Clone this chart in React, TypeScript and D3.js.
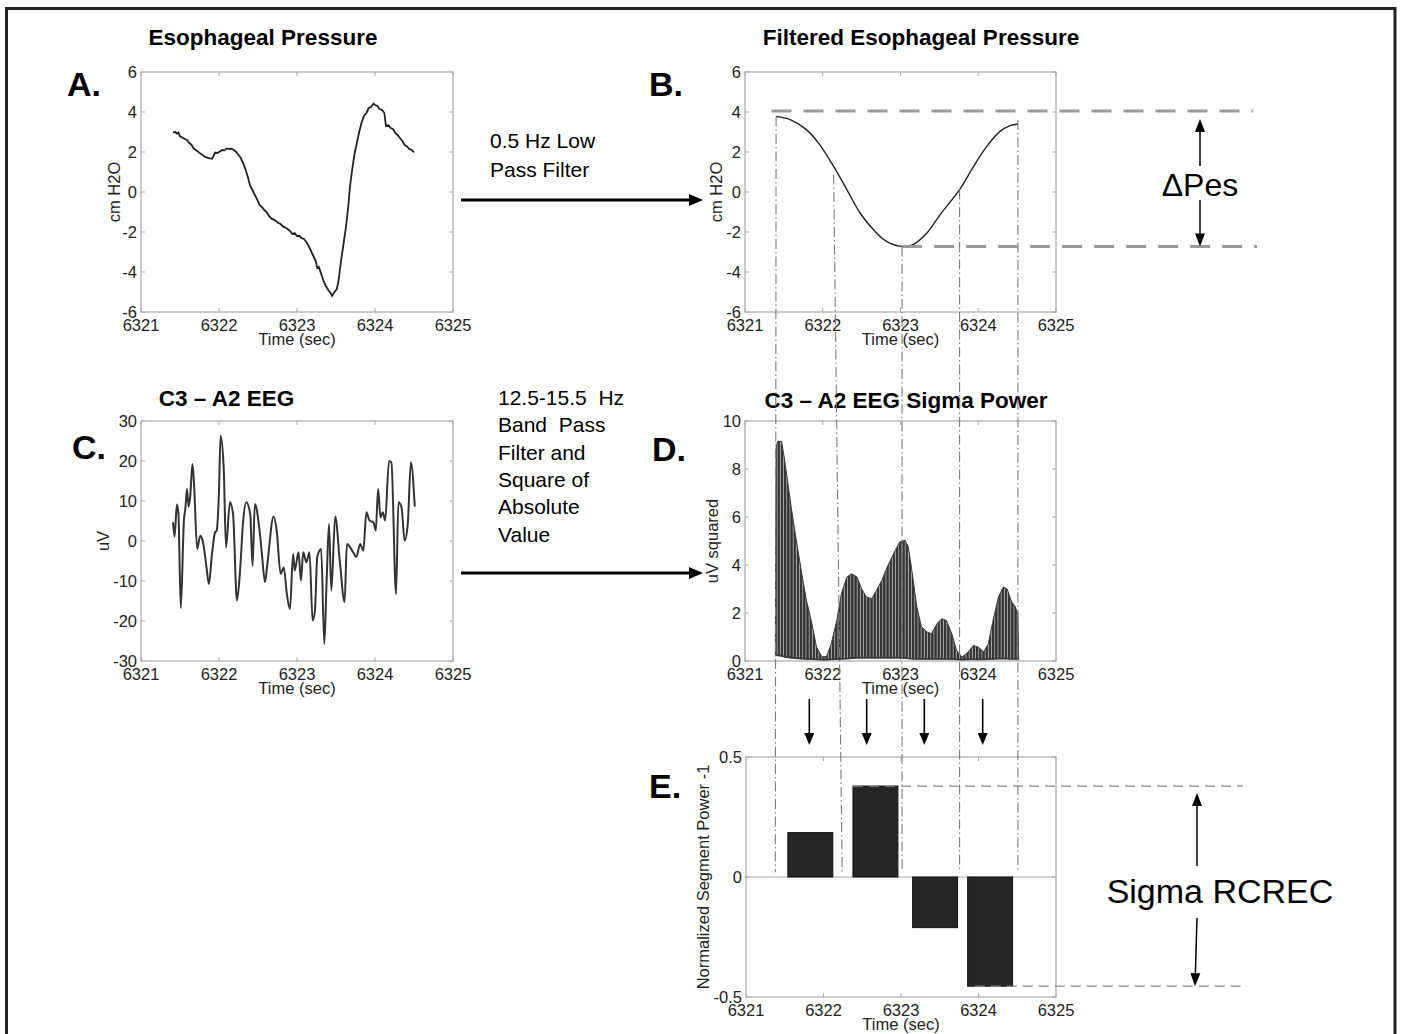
import React from 'react';
import * as d3 from 'd3';

const FONT = '"Liberation Sans", Arial, Helvetica, sans-serif';

// ---------- data ----------
const timeTicks = [6321, 6322, 6323, 6324, 6325];
const pesTicks = [-6, -4, -2, 0, 2, 4, 6];
const eegTicks = [-30, -20, -10, 0, 10, 20, 30];
const sigmaTicks = [0, 2, 4, 6, 8, 10];
const segTicks = [-0.5, 0, 0.5];

const rawPes: [number, number][] = [
  [6321.41, 2.98], [6321.44, 3.0], [6321.46, 2.92], [6321.48, 2.98], [6321.5, 2.78], [6321.53, 2.72],
  [6321.56, 2.65], [6321.59, 2.6], [6321.62, 2.45], [6321.65, 2.35], [6321.67, 2.2], [6321.7, 2.1],
  [6321.73, 2.02], [6321.76, 1.92], [6321.79, 1.85], [6321.82, 1.75], [6321.85, 1.72], [6321.88, 1.68],
  [6321.91, 1.66], [6321.93, 1.8], [6321.95, 1.97], [6321.98, 1.95], [6322.01, 2.02], [6322.04, 2.1],
  [6322.07, 2.08], [6322.1, 2.18], [6322.13, 2.15], [6322.16, 2.17], [6322.19, 2.1], [6322.22, 2.0],
  [6322.25, 1.85], [6322.28, 1.7], [6322.31, 1.45], [6322.34, 1.12], [6322.37, 0.75], [6322.4, 0.3],
  [6322.43, 0.1], [6322.46, -0.15], [6322.49, -0.38], [6322.52, -0.65], [6322.55, -0.75], [6322.58, -0.9],
  [6322.61, -1.0], [6322.64, -1.2], [6322.67, -1.32], [6322.7, -1.38], [6322.73, -1.45], [6322.76, -1.55],
  [6322.79, -1.6], [6322.82, -1.72], [6322.85, -1.78], [6322.88, -1.85], [6322.91, -1.95], [6322.94, -2.1],
  [6322.97, -2.05], [6323.0, -2.2], [6323.03, -2.2], [6323.06, -2.3], [6323.09, -2.35], [6323.12, -2.5],
  [6323.15, -2.7], [6323.18, -2.95], [6323.21, -3.2], [6323.24, -3.45], [6323.26, -3.8], [6323.28, -3.75],
  [6323.31, -4.1], [6323.34, -4.45], [6323.37, -4.7], [6323.4, -4.9], [6323.43, -5.05], [6323.45, -5.2],
  [6323.48, -5.0], [6323.51, -4.85], [6323.53, -4.5], [6323.55, -3.9], [6323.57, -3.3], [6323.6, -2.5],
  [6323.63, -1.7], [6323.66, -0.6], [6323.68, 0.3], [6323.71, 1.2], [6323.74, 1.95], [6323.77, 2.5],
  [6323.8, 3.05], [6323.83, 3.5], [6323.86, 3.82], [6323.89, 3.95], [6323.92, 4.2], [6323.95, 4.25],
  [6323.98, 4.42], [6324.0, 4.35], [6324.03, 4.3], [6324.06, 4.15], [6324.09, 4.1], [6324.12, 3.95],
  [6324.14, 3.3], [6324.17, 3.35], [6324.2, 3.2], [6324.23, 3.15], [6324.26, 2.95], [6324.29, 2.85],
  [6324.32, 2.7], [6324.35, 2.55], [6324.38, 2.35], [6324.41, 2.28], [6324.44, 2.15], [6324.47, 2.1],
  [6324.5, 1.98],
];

const filteredPes: [number, number][] = [
  [6321.4, 3.78], [6321.58, 3.62], [6321.79, 3.12], [6321.96, 2.37], [6322.14, 1.28], [6322.31, 0.12],
  [6322.48, -1.05], [6322.65, -1.88], [6322.82, -2.47], [6323.01, -2.72], [6323.16, -2.63], [6323.34, -2.05],
  [6323.51, -1.13], [6323.76, 0.12], [6323.94, 1.28], [6324.11, 2.28], [6324.28, 3.03], [6324.41, 3.32],
  [6324.51, 3.4],
];

const eeg: [number, number][] = [
  [6321.41, 4.7], [6321.43, 1.1], [6321.46, 9.1], [6321.48, 6.75], [6321.51, -16.8], [6321.55, 5.1],
  [6321.57, 8.4], [6321.59, 13], [6321.61, 8.6], [6321.63, 10.9], [6321.66, 19.25], [6321.68, 14.25],
  [6321.72, -2], [6321.76, 1.3], [6321.79, 0.1], [6321.84, -6.6], [6321.87, -10.75], [6321.91, -3.25],
  [6321.95, 2.2], [6321.97, 2.6], [6322.0, 12.6], [6322.02, 26.3], [6322.06, 18.4], [6322.09, -1.6],
  [6322.14, 9.7], [6322.18, 6.75], [6322.23, -14.9], [6322.27, -7.4], [6322.31, 5.1], [6322.35, 9.7],
  [6322.4, 6.75], [6322.43, -6.2], [6322.46, 9.25], [6322.52, 2.6], [6322.55, -3.25], [6322.59, -10.3],
  [6322.62, -5.75], [6322.7, 6.1], [6322.74, 2.6], [6322.79, -8.25], [6322.83, -6.6], [6322.87, -13.25],
  [6322.91, -17], [6322.95, -3.25], [6322.97, -7.4], [6323.02, -2.8], [6323.05, -9.9], [6323.08, -2.8],
  [6323.12, -5.3], [6323.16, -2.8], [6323.2, -19.9], [6323.23, -17.4], [6323.26, -4], [6323.31, -2],
  [6323.35, -25.75], [6323.38, -9.9], [6323.41, 4.25], [6323.44, -12.4], [6323.49, 6.1], [6323.55, -5.3],
  [6323.61, -15.3], [6323.64, -0.75], [6323.72, -2.8], [6323.76, -4], [6323.81, -0.75], [6323.85, -2.4],
  [6323.89, 7.2], [6323.93, 5.1], [6323.98, 4.7], [6324.01, 2.6], [6324.04, 13], [6324.07, 5.9],
  [6324.1, 7.2], [6324.13, 5.1], [6324.18, 20], [6324.21, 19.7], [6324.27, -13.25], [6324.3, 9.7],
  [6324.34, 8.4], [6324.38, 0.1], [6324.42, 4.25], [6324.46, 19.7], [6324.51, 8.6],
];

// [time, upper envelope, lower envelope]
const sigmaEnvelope: [number, number, number][] = [
  [6321.39, 0.2, 0.2], [6321.4, 8.9, 0.2], [6321.42, 9.15, 0.2], [6321.47, 9.15, 0.18], [6321.5, 8.57, 0.15],
  [6321.54, 7.67, 0.12], [6321.6, 6.28, 0.1], [6321.66, 5.03, 0.08], [6321.73, 3.64, 0.06], [6321.79, 2.53, 0.05],
  [6321.86, 1.56, 0.04], [6321.92, 0.58, 0.03], [6321.99, 0.17, 0.02], [6322.05, 0.19, 0.02], [6322.11, 0.72, 0.03],
  [6322.18, 1.69, 0.04], [6322.24, 2.81, 0.05], [6322.31, 3.5, 0.06], [6322.37, 3.64, 0.08], [6322.44, 3.5, 0.1],
  [6322.5, 3.01, 0.1], [6322.56, 2.67, 0.1], [6322.63, 2.6, 0.1], [6322.69, 2.94, 0.1], [6322.76, 3.36, 0.1],
  [6322.82, 3.85, 0.1], [6322.91, 4.47, 0.1], [6322.99, 4.96, 0.1], [6323.06, 5.03, 0.08], [6323.1, 4.75, 0.07],
  [6323.14, 3.92, 0.06], [6323.21, 2.25, 0.05], [6323.27, 1.42, 0.05], [6323.34, 1.21, 0.05], [6323.4, 1.14, 0.05],
  [6323.47, 1.56, 0.05], [6323.53, 1.76, 0.05], [6323.59, 1.69, 0.05], [6323.66, 1.14, 0.04], [6323.72, 0.44, 0.03],
  [6323.79, 0.17, 0.02], [6323.85, 0.31, 0.03], [6323.94, 0.65, 0.03], [6324.0, 0.58, 0.03], [6324.07, 0.38, 0.03],
  [6324.13, 0.72, 0.04], [6324.19, 1.69, 0.05], [6324.26, 2.67, 0.06], [6324.32, 3.08, 0.06], [6324.37, 3.01, 0.06],
  [6324.43, 2.46, 0.05], [6324.47, 2.3, 0.05], [6324.51, 1.97, 0.04], [6324.52, 0.05, 0.04],
];

const segCenters = [6321.83, 6322.67, 6323.44, 6324.15];
const segValues = [0.185, 0.379, -0.211, -0.455];
const segWidth = 0.58;

const boundaryTopTime = [6321.4, 6322.14, 6323.02, 6323.76, 6324.51];
const boundaryBottomTime = [6321.39, 6322.25, 6323.02, 6323.76, 6324.51];
const boundaryPes = [3.78, 0.87, -2.72, 0.12, 3.6];
const segArrowTimes = [6321.827, 6322.565, 6323.306, 6324.057];

const pesMaxLine = 4.05;
const pesMinLine = -2.72;

// ---------- layout ----------
const boxA = { l: 141, r: 453, t: 72, b: 312 };
const boxB = { l: 745, r: 1056, t: 72, b: 312 };
const boxC = { l: 141, r: 453, t: 421, b: 661 };
const boxD = { l: 745, r: 1056, t: 421, b: 661 };
const boxE = { l: 746, r: 1056, t: 757, b: 997 };

const AXIS = '#a9a9a9';
const TXT = '#222';

type Box = { l: number; r: number; t: number; b: number };

function Axes({ box, x, y, yTicks, yLabel, yLabelDx }: {
  box: Box; x: d3.ScaleLinear<number, number>; y: d3.ScaleLinear<number, number>;
  yTicks: number[]; yLabel: string; yLabelDx: number;
}) {
  const tl = 4;
  return (
    <g fontFamily={FONT}>
      <rect x={box.l} y={box.t} width={box.r - box.l} height={box.b - box.t} fill="none" stroke={AXIS} strokeWidth={1.2} />
      {timeTicks.map((t) => (
        <g key={'x' + t}>
          <line x1={x(t)} x2={x(t)} y1={box.b} y2={box.b - tl} stroke={AXIS} />
          <line x1={x(t)} x2={x(t)} y1={box.t} y2={box.t + tl} stroke={AXIS} />
          <text x={x(t)} y={box.b + 19} textAnchor="middle" fontSize={16.5} fill={TXT}>{String(t)}</text>
        </g>
      ))}
      {yTicks.map((v) => (
        <g key={'y' + v}>
          <line x1={box.l} x2={box.l + tl} y1={y(v)} y2={y(v)} stroke={AXIS} />
          <line x1={box.r} x2={box.r - tl} y1={y(v)} y2={y(v)} stroke={AXIS} />
          <text x={box.l - 4} y={y(v)} dy="0.36em" textAnchor="end" fontSize={16.5} fill={TXT}>{String(v)}</text>
        </g>
      ))}
      <text x={(box.l + box.r) / 2} y={box.b + 33} textAnchor="middle" fontSize={16.5} fill={TXT}>Time (sec)</text>
      <text transform={`translate(${box.l - yLabelDx},${(box.t + box.b) / 2}) rotate(-90)`} dy="0.36em"
        textAnchor="middle" fontSize={16.5} fill={TXT}>{yLabel}</text>
    </g>
  );
}

function Arrow({ x1, y1, x2, y2, w = 1.5, head = 13, half = 5 }: any) {
  const ang = Math.atan2(y2 - y1, x2 - x1);
  const bx = x2 - head * Math.cos(ang);
  const by = y2 - head * Math.sin(ang);
  const px = -Math.sin(ang) * half;
  const py = Math.cos(ang) * half;
  return (
    <g>
      <line x1={x1} y1={y1} x2={bx} y2={by} stroke="#000" strokeWidth={w} />
      <path d={`M${x2},${y2}L${bx + px},${by + py}L${bx - px},${by - py}Z`} fill="#000" />
    </g>
  );
}

export default function App() {
  const xA = d3.scaleLinear().domain([6321, 6325]).range([boxA.l, boxA.r]);
  const yA = d3.scaleLinear().domain([-6, 6]).range([boxA.b, boxA.t]);
  const xB = d3.scaleLinear().domain([6321, 6325]).range([boxB.l, boxB.r]);
  const yB = d3.scaleLinear().domain([-6, 6]).range([boxB.b, boxB.t]);
  const xC = d3.scaleLinear().domain([6321, 6325]).range([boxC.l, boxC.r]);
  const yC = d3.scaleLinear().domain([-30, 30]).range([boxC.b, boxC.t]);
  const xD = d3.scaleLinear().domain([6321, 6325]).range([boxD.l, boxD.r]);
  const yD = d3.scaleLinear().domain([0, 10]).range([boxD.b, boxD.t]);
  const xE = d3.scaleLinear().domain([6321, 6325]).range([boxE.l, boxE.r]);
  const yE = d3.scaleLinear().domain([-0.5, 0.5]).range([boxE.b, boxE.t]);

  const lineA = d3.line<[number, number]>().x((d) => xA(d[0])).y((d) => yA(d[1]))(rawPes) || '';
  const lineB = d3.line<[number, number]>().x((d) => xB(d[0])).y((d) => yB(d[1])).curve(d3.curveCatmullRom)(filteredPes) || '';
  const lineC = d3.line<[number, number]>().x((d) => xC(d[0])).y((d) => yC(d[1])).curve(d3.curveMonotoneX)(eeg) || '';
  const areaD = d3.area<[number, number, number]>().x((d) => xD(d[0])).y0((d) => yD(d[2])).y1((d) => yD(d[1]))(sigmaEnvelope) || '';
  const topD = d3.line<[number, number, number]>().x((d) => xD(d[0])).y((d) => yD(d[1]))(sigmaEnvelope) || '';
  const botD = d3.line<[number, number, number]>().x((d) => xD(d[0])).y((d) => yD(d[2]) - 1)(sigmaEnvelope) || '';

  const titleStyle = { fontFamily: FONT, fontWeight: 700, fontSize: 22.5, fill: '#000' } as any;
  const letterStyle = { fontFamily: FONT, fontWeight: 700, fontSize: 34, fill: '#000' } as any;
  const noteStyle = { fontFamily: FONT, fontSize: 21, fill: '#000', whiteSpace: 'pre' } as any;

  const block2 = ['12.5-15.5  Hz', 'Band  Pass', 'Filter and', 'Square of', 'Absolute', 'Value'];

  return (
    <svg width={1401} height={1034} style={{ position: 'absolute', left: 0, top: 0, background: '#fff' }}>
      <defs>
        <pattern id="stripes" patternUnits="userSpaceOnUse" width={3.2} height={10}>
          <rect x={0} y={0} width={3.2} height={10} fill="#b0b0b0" />
          <rect x={0} y={0} width={2.3} height={10} fill="#333" />
        </pattern>
      </defs>
      <rect x={0} y={0} width={1401} height={1034} fill="#fff" />
      {/* outer frame */}
      <rect x={6.5} y={8.5} width={1388.5} height={1040} fill="none" stroke="#222" strokeWidth={3} />

      {/* titles */}
      <text x={263} y={45} textAnchor="middle" style={titleStyle}>Esophageal Pressure</text>
      <text x={921} y={45} textAnchor="middle" style={titleStyle}>Filtered Esophageal Pressure</text>
      <text x={226.5} y={406} textAnchor="middle" style={titleStyle}>C3 – A2 EEG</text>
      <text x={906} y={408} textAnchor="middle" style={titleStyle}>C3 – A2 EEG Sigma Power</text>

      {/* panel letters */}
      <text x={67} y={96} style={letterStyle}>A.</text>
      <text x={649} y={96} style={letterStyle}>B.</text>
      <text x={72} y={459} style={letterStyle}>C.</text>
      <text x={652} y={461} style={letterStyle}>D.</text>
      <text x={649} y={798} style={letterStyle}>E.</text>

      {/* panel A */}
      <Axes box={boxA} x={xA} y={yA} yTicks={pesTicks} yLabel="cm H2O" yLabelDx={27} />
      <path d={lineA} fill="none" stroke="#222" strokeWidth={1.8} />

      {/* panel B */}
      <Axes box={boxB} x={xB} y={yB} yTicks={pesTicks} yLabel="cm H2O" yLabelDx={29} />
      <path d={lineB} fill="none" stroke="#222" strokeWidth={1.4} />

      {/* panel C */}
      <Axes box={boxC} x={xC} y={yC} yTicks={eegTicks} yLabel="uV" yLabelDx={38} />
      <path d={lineC} fill="none" stroke="#333" strokeWidth={2} />

      {/* panel D */}
      <Axes box={boxD} x={xD} y={yD} yTicks={sigmaTicks} yLabel="uV squared" yLabelDx={33} />
      <path d={areaD} fill="url(#stripes)" stroke="none" />
      <path d={topD} fill="none" stroke="#3a3a3a" strokeWidth={1} />
      <path d={botD} fill="none" stroke="#3a3a3a" strokeWidth={1.6} />

      {/* panel E */}
      <Axes box={boxE} x={xE} y={yE} yTicks={segTicks} yLabel="Normalized Segment Power -1" yLabelDx={43} />
      <line x1={boxE.l} x2={boxE.r} y1={yE(0)} y2={yE(0)} stroke={AXIS} strokeWidth={1.2} />
      {segValues.map((v, i) => {
        const x0 = xE(segCenters[i] - segWidth / 2);
        const x1 = xE(segCenters[i] + segWidth / 2);
        return (
          <rect key={'bar' + i} x={x0} width={x1 - x0} y={Math.min(yE(v), yE(0))} height={Math.abs(yE(v) - yE(0))}
            fill="#262626" stroke="#111" strokeWidth={1} />
        );
      })}

      {/* dash-dot segment boundaries */}
      {boundaryTopTime.map((t, i) => (
        <line key={'bd' + i} x1={xB(t)} y1={yB(boundaryPes[i])} x2={xB(boundaryBottomTime[i])} y2={yE(0.02)}
          stroke="#7a7a7a" strokeWidth={1.1} strokeDasharray="10 3 1.5 3" />
      ))}

      {/* Delta Pes dashed lines */}
      <line x1={xB(6321.34)} x2={1253} y1={yB(pesMaxLine)} y2={yB(pesMaxLine)} stroke="#999" strokeWidth={3} strokeDasharray="20 12" />
      <line x1={xB(6323.02)} x2={1257} y1={yB(pesMinLine)} y2={yB(pesMinLine)} stroke="#999" strokeWidth={3} strokeDasharray="20 12" />
      <Arrow x1={1200} y1={166} x2={1200} y2={yB(pesMaxLine) + 8} />
      <Arrow x1={1200} y1={200} x2={1200} y2={yB(pesMinLine)} />
      <text x={1200} y={196} textAnchor="middle" style={{ fontFamily: FONT, fontSize: 32, fill: '#000' }}>ΔPes</text>

      {/* Sigma RCREC dashed lines */}
      <line x1={xE(segCenters[1] - segWidth / 2)} x2={1243} y1={yE(segValues[1])} y2={yE(segValues[1])} stroke="#8a8a8a" strokeWidth={1.3} strokeDasharray="10 6" />
      <line x1={xE(segCenters[3] - 0.2)} x2={1247} y1={yE(segValues[3])} y2={yE(segValues[3])} stroke="#8a8a8a" strokeWidth={1.3} strokeDasharray="10 6" />
      <Arrow x1={1197} y1={866} x2={1197} y2={yE(segValues[1]) + 7} />
      <Arrow x1={1197} y1={918} x2={1195} y2={yE(segValues[3])} />
      <text x={1220} y={903} textAnchor="middle" style={{ fontFamily: FONT, fontSize: 34, fill: '#000' }}>Sigma RCREC</text>

      {/* arrows from D to E */}
      {segArrowTimes.map((t, i) => (
        <Arrow key={'da' + i} x1={xB(t)} y1={699} x2={xB(t)} y2={745} w={1.6} head={12} half={5} />
      ))}

      {/* process arrows and notes */}
      <text x={490} y={148} style={noteStyle}>0.5 Hz Low</text>
      <text x={490} y={177} style={noteStyle}>Pass Filter</text>
      <Arrow x1={461} y1={200} x2={703} y2={200} w={3} head={14} half={6} />
      {block2.map((s, i) => (
        <text key={'n' + i} x={498} y={405 + i * 27.3} style={noteStyle}>{s}</text>
      ))}
      <Arrow x1={461} y1={573} x2={703} y2={573} w={3} head={14} half={6} />
    </svg>
  );
}
